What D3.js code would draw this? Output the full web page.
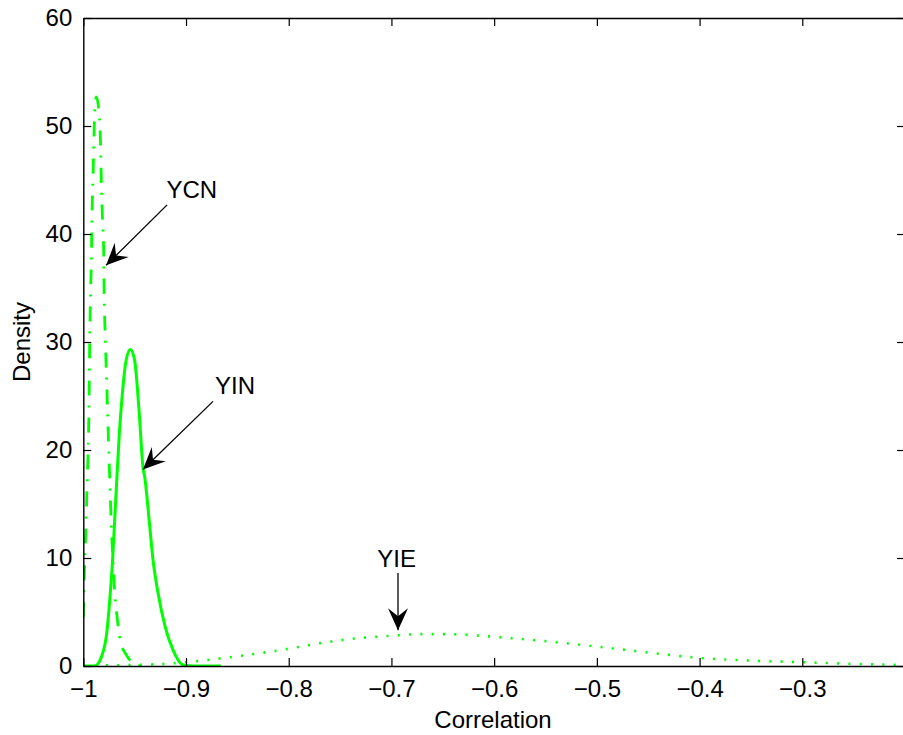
<!DOCTYPE html>
<html>
<head>
<meta charset="utf-8">
<script src="https://cdn.jsdelivr.net/npm/d3@7"></script>
<style>
  html, body { margin: 0; padding: 0; background: #fff; }
  svg { display: block; font-family: "Liberation Sans", Arial, Helvetica, sans-serif; }
</style>
</head>
<body>
<svg id="chart" width="903" height="735"></svg>
<script>
// ---- data ----
const xTicks = [-1, -0.9, -0.8, -0.7, -0.6, -0.5, -0.4, -0.3, -0.2];
const xTickLabels = ["\u22121", "\u22120.9", "\u22120.8", "\u22120.7", "\u22120.6", "\u22120.5", "\u22120.4", "\u22120.3", ""];
const yTicks = [0, 10, 20, 30, 40, 50, 60];
const yTickLabels = ["0", "10", "20", "30", "40", "50", "60"];

// YCN (dash-dot)
const ycnX = [-1.0, -0.9986, -0.9974, -0.9961, -0.9954, -0.9944, -0.9937, -0.9928, -0.9922, -0.9915, -0.9906, -0.9889, -0.9873,
              -0.9847, -0.9831, -0.9825, -0.9815, -0.9801, -0.9798, -0.9786, -0.9766, -0.9750, -0.9743, -0.9727, -0.9711, -0.9694,
              -0.9672, -0.9640, -0.9580, -0.9526, -0.9487, -0.9400];
const ycnY = [4.5, 9.8, 12.9, 17.5, 19.4, 24.4, 30.5, 35.1, 37.3, 41.9, 45.0, 51.2, 52.7,
              51.2, 48.1, 45.0, 41.9, 38.2, 35.1, 30.5, 24.4, 19.4, 17.5, 12.9, 9.8, 6.8,
              4.6, 2.4, 1.0, 0.35, 0.05, 0];

// YIN (solid)
const yinX = [-1.0, -0.9889, -0.9825, -0.9770, -0.9740, -0.9716, -0.9694, -0.9672, -0.9650, -0.9620, -0.9585, -0.9542,
              -0.9500, -0.9474, -0.9451, -0.9419, -0.9402, -0.9353, -0.9321, -0.9273, -0.9202, -0.9127, -0.9029, -0.8912, -0.8660];
const yinY = [0, 0, 0.8, 3.2, 6.4, 9.6, 13.6, 17.6, 21.4, 25.2, 28.2, 29.3,
              28.3, 25.8, 22.8, 18.4, 17.5, 12.9, 9.8, 6.8, 3.6, 1.5, 0.1, 0, 0];

// YIE (dotted)
const yieX = [-1.0, -0.98, -0.95, -0.92, -0.90, -0.88, -0.85, -0.82, -0.80, -0.77, -0.74, -0.70, -0.67, -0.65, -0.62,
              -0.60, -0.55, -0.50, -0.45, -0.40, -0.35, -0.30, -0.25, -0.20];
const yieY = [0, 0.05, 0.1, 0.2, 0.35, 0.55, 0.9, 1.3, 1.6, 2.1, 2.5, 2.8, 2.95, 2.95, 2.85,
              2.7, 2.3, 1.8, 1.25, 0.75, 0.5, 0.35, 0.2, 0.1];

// annotations: label, label position (data), arrow tail (data), arrow tip (data)
const annLabels = ["YCN", "YIN", "YIE"];
const annTextX = [-0.9190, -0.8717, -0.7138];
const annTextY = [43.3, 25.2, 9.2];
const annTailX = [-0.9184, -0.8737, -0.6936];
const annTailY = [42.7, 24.5, 8.6];
const annTipX = [-0.9778, -0.9419, -0.6936];
const annTipY = [37.1, 18.2, 3.3];

// ---- chart ----
const svg = d3.select("#chart");
const x = d3.scaleLinear().domain([-1, -0.2]).range([83.3, 905]);
const y = d3.scaleLinear().domain([0, 60]).range([666, 18]);
const green = "#00ff00";
const fontSize = 24;

svg.append("defs").append("clipPath").attr("id", "clip")
  .append("rect").attr("x", x(-1)).attr("y", y(60))
  .attr("width", x(-0.2) - x(-1)).attr("height", y(0) - y(60));

const line = d3.line().x(d => x(d[0])).y(d => y(d[1])).curve(d3.curveMonotoneX);
const plot = svg.append("g").attr("clip-path", "url(#clip)");

plot.append("path").datum(d3.zip(yieX, yieY)).attr("d", line)
  .attr("fill", "none").attr("stroke", green).attr("stroke-width", 2.6)
  .attr("stroke-dasharray", "2,9.3");
plot.append("path").datum(d3.zip(yinX, yinY)).attr("d", line)
  .attr("fill", "none").attr("stroke", green).attr("stroke-width", 3);
plot.append("path").datum(d3.zip(ycnX, ycnY)).attr("d", line)
  .attr("fill", "none").attr("stroke", green).attr("stroke-width", 2.8)
  .attr("stroke-dasharray", "15,10,2,10");

// frame
const axisColor = "#000";
const tickLen = 8;
const xFmt = d => xTickLabels[xTicks.indexOf(d)];
const yFmt = d => yTickLabels[yTicks.indexOf(d)];

const gB = svg.append("g").attr("transform", `translate(0,${y(0)})`)
  .call(d3.axisBottom(x).tickValues(xTicks).tickSizeInner(-tickLen).tickSizeOuter(0).tickPadding(14).tickFormat(xFmt));
const gT = svg.append("g").attr("transform", `translate(0,${y(60)})`)
  .call(d3.axisTop(x).tickValues(xTicks).tickSizeInner(-tickLen).tickSizeOuter(0).tickFormat(""));
const gL = svg.append("g").attr("transform", `translate(${x(-1)},0)`)
  .call(d3.axisLeft(y).tickValues(yTicks).tickSizeInner(-tickLen).tickSizeOuter(0).tickPadding(11).tickFormat(yFmt));
const gR = svg.append("g").attr("transform", `translate(${x(-0.2)},0)`)
  .call(d3.axisRight(y).tickValues(yTicks).tickSizeInner(-tickLen).tickSizeOuter(0).tickFormat(""));

[gB, gT, gL, gR].forEach(g => {
  g.selectAll(".domain").attr("stroke", axisColor).attr("stroke-width", 1.4);
  g.selectAll(".tick line").attr("stroke", axisColor).attr("stroke-width", 1.2);
  g.selectAll(".tick text").attr("fill", "#000").attr("font-size", fontSize)
    .attr("font-family", "'Liberation Sans', Arial, Helvetica, sans-serif");
});

// axis labels
svg.append("text").attr("x", 493).attr("y", 728)
  .attr("text-anchor", "middle").attr("font-size", fontSize).text("Correlation");
svg.append("text").attr("transform", `translate(30,${(y(0) + y(60)) / 2}) rotate(-90)`)
  .attr("text-anchor", "middle").attr("font-size", fontSize).text("Density");

// annotations
const head = (x1, y1, x2, y2) => {
  const ang = Math.atan2(y2 - y1, x2 - x1);
  const L = 22, W = 10, notch = 14;
  const ca = Math.cos(ang), sa = Math.sin(ang);
  const bx = x2 - L * ca, by = y2 - L * sa;
  const nx = x2 - notch * ca, ny = y2 - notch * sa;
  return `M${x2},${y2}L${bx - W * sa},${by + W * ca}L${nx},${ny}L${bx + W * sa},${by - W * ca}Z`;
};
annLabels.forEach((lab, i) => {
  const x1 = x(annTailX[i]), y1 = y(annTailY[i]);
  const x2 = x(annTipX[i]), y2 = y(annTipY[i]);
  svg.append("line").attr("x1", x1).attr("y1", y1).attr("x2", x2).attr("y2", y2)
    .attr("stroke", "#000").attr("stroke-width", 1.3);
  svg.append("path").attr("d", head(x1, y1, x2, y2)).attr("fill", "#000");
  svg.append("text").attr("x", x(annTextX[i])).attr("y", y(annTextY[i]))
    .attr("font-size", fontSize).attr("fill", "#000").text(lab);
});
</script>
</body>
</html>
